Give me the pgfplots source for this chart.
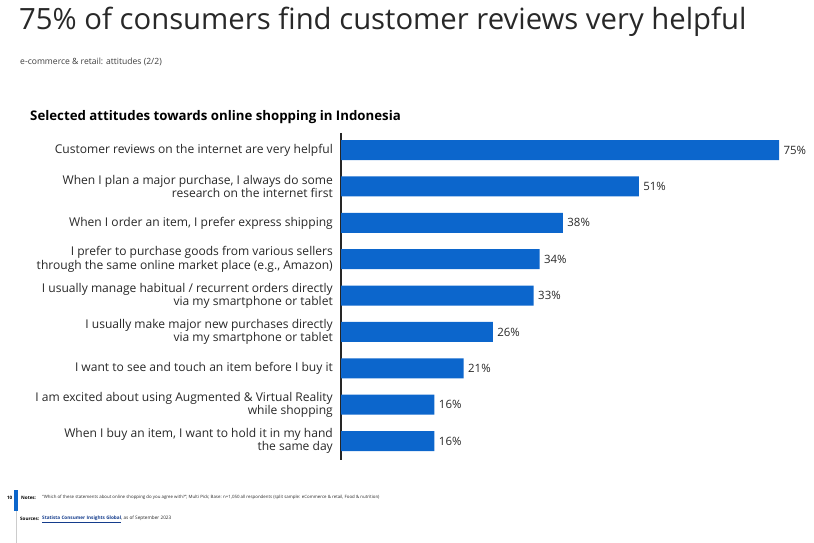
\documentclass[border=0pt]{standalone}
\usepackage{pgfplots}
\pgfplotsset{compat=1.18}
\usepackage{fontspec}
\setmainfont{Open Sans}
\definecolor{barblue}{RGB}{12,102,204}
\definecolor{txt}{RGB}{40,40,40}
\definecolor{linkblue}{RGB}{20,60,140}
\begin{document}
\begin{tikzpicture}
\path[use as bounding box] (0,0) rectangle (814bp,543bp);
% headings
\node[anchor=west, font=\fontsize{29.4}{32}\selectfont, text=txt, inner sep=0] at (19bp,521bp) {75\% of consumers find customer reviews very helpful};
\node[anchor=west, font=\fontsize{8.6}{10}\selectfont, text=txt!90, inner sep=0] at (20bp,481bp) {e-commerce \& retail: attitudes (2/2)};
\node[anchor=west, font=\bfseries\fontsize{13.3}{15}\selectfont, text=black, inner sep=0] at (30bp,426bp) {Selected attitudes towards online shopping in Indonesia};
% footer
\fill[barblue] (14bp,32bp) rectangle (18bp,53bp);
\draw[gray!40, line width=0.6bp] (16bp,0bp) -- (16bp,32bp);
\node[anchor=east, font=\bfseries\fontsize{4.6}{5}\selectfont, inner sep=0] at (12.5bp,45bp) {10};
\node[anchor=west, font=\bfseries\fontsize{4.6}{5}\selectfont, inner sep=0] at (21bp,45bp) {Notes:};
\node[anchor=west, font=\fontsize{4.4}{5}\selectfont, text=txt, inner sep=0] at (42bp,46bp) {``Which of these statements about online shopping do you agree with?''; Multi Pick; Base: n=1,050 all respondents (split sample: eCommerce \& retail, Food \& nutrition)};
\node[anchor=west, font=\bfseries\fontsize{4.6}{5}\selectfont, inner sep=0] at (20bp,24bp) {Sources:};
\node[anchor=west, font=\fontsize{4.7}{5}\selectfont, text=txt, inner sep=0] at (42bp,24bp) {\textcolor{linkblue}{\bfseries\underline{Statista Consumer Insights Global}}, as of September 2023};
\begin{axis}[
  at={(341bp,410bp)}, anchor=north west,
  scale only axis,
  width=438bp, height=327bp,
  xbar, bar width=20bp,
  xmin=0, xmax=75,
  ymin=-0.47, ymax=8.52,
  y dir=reverse,
  axis x line=none,
  axis y line*=left,
  y axis line style={black!85, line width=1.2bp, -},
  ytick={0,1,2,3,4,5,6,7,8},
  yticklabels={
    {Customer reviews on the internet are very helpful},
    {When I plan a major purchase, I always do some\\research on the internet first},
    {When I order an item, I prefer express shipping},
    {I prefer to purchase goods from various sellers\\through the same online market place (e.g., Amazon)},
    {I usually manage habitual / recurrent orders directly\\via my smartphone or tablet},
    {I usually make major new purchases directly\\via my smartphone or tablet},
    {I want to see and touch an item before I buy it},
    {I am excited about using Augmented \& Virtual Reality\\while shopping},
    {When I buy an item, I want to hold it in my hand\\the same day}},
  major tick length=0pt,
  yticklabel style={align=right, font=\fontsize{12.1}{13.3}\selectfont, text=txt, inner sep=0pt, xshift=-8bp},
  clip=false,
  /pgf/number format/assume math mode=true,
  nodes near coords={\pgfmathprintnumber{\pgfplotspointmeta}\%},
  nodes near coords style={anchor=west, font=\fontsize{11.5}{13}\selectfont, text=txt, xshift=1bp},
  point meta=x,
]
\addplot[fill=barblue, draw=none] coordinates {
  (75,0) (51,1) (38,2) (34,3) (33,4) (26,5) (21,6) (16,7) (16,8)
};
\end{axis}
\end{tikzpicture}
\end{document}
